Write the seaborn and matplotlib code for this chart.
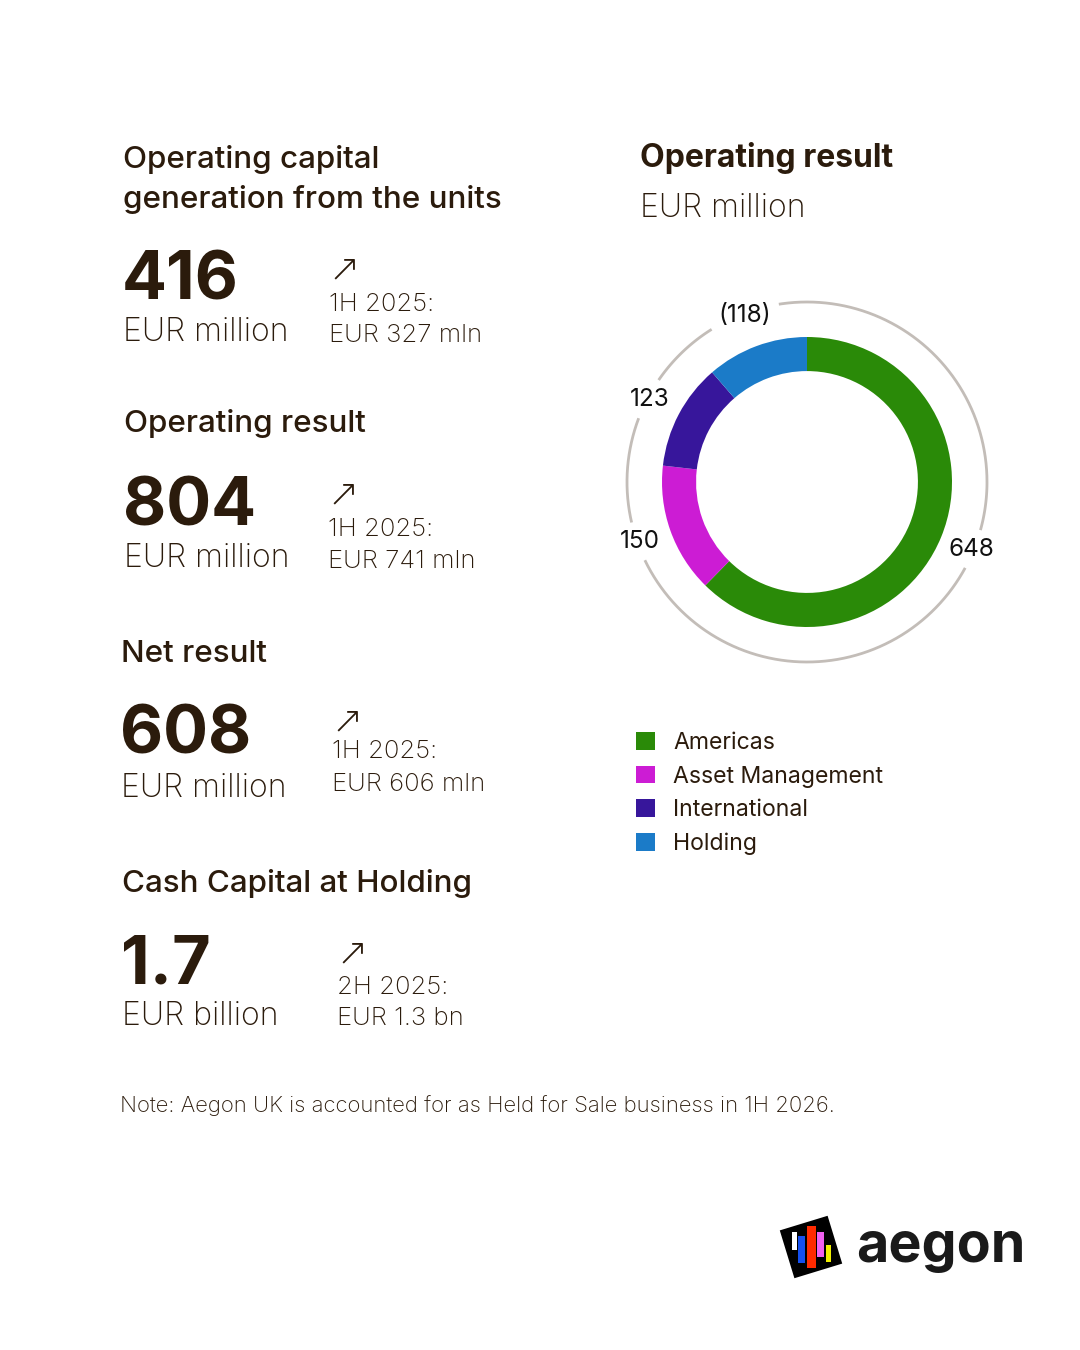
import numpy as np
import matplotlib
matplotlib.use("Agg")
import matplotlib.pyplot as plt
from matplotlib.patches import Patch, Rectangle, Polygon
import seaborn as sns

# ---------------- data ----------------
segments = ["Americas", "Asset Management", "International", "Holding"]
seg_values = [648, 150, 123, -118]
seg_colors = ["#2A8A08", "#CC1CD4", "#37169B", "#1B7BC8"]

kpi_titles = [["Operating capital", "generation from the units"],
              ["Operating result"], ["Net result"], ["Cash Capital at Holding"]]
kpi_values = ["416", "804", "608", "1.7"]
kpi_units = ["EUR million", "EUR million", "EUR million", "EUR billion"]
kpi_prev_period = ["1H 2025:", "1H 2025:", "1H 2025:", "2H 2025:"]
kpi_prev_value = ["EUR 327 mln", "EUR 741 mln", "EUR 606 mln", "EUR 1.3 bn"]

chart_title = "Operating result"
chart_unit = "EUR million"
note = "Note: Aegon UK is accounted for as Held for Sale business in 1H 2026."
brand = "aegon"
logo_bar_colors = ["#FFFFFF", "#1450F0", "#FF2A00", "#F060F0", "#F0F000"]

# ---------------- style ----------------
sns.set_theme(style="white")
plt.rcParams["font.family"] = ["Inter", "DejaVu Sans"]
INK = "#2B1B0C"

W, H = 1080, 1350
fig = plt.figure(figsize=(W / 100, H / 100), dpi=100)
fig.patch.set_facecolor("white")

# overlay axes in pixel coordinates
ov = fig.add_axes([0, 0, 1, 1])
ov.set_xlim(0, W)
ov.set_ylim(H, 0)
ov.axis("off")

def T(x, y, s, size, weight="normal", color=INK, family=None, **kw):
    kws = dict(fontsize=size, fontweight=weight, color=color, va="baseline", ha="left")
    if family is not None:
        kws["family"] = family
    kws.update(kw)
    return ov.text(x, y, s, **kws)

# left KPI blocks
layout = [
    (123, [168, 208], 300, 341, 329, 280, 311, 342),
    (124, [432], 525, 567, 328, 505, 536, 568),
    (121, [662], 753, 797, 332, 732, 758, 791),
    (122, [892], 983, 1025, 337, 964, 994, 1025),
]
for i, (xl, tbl, vbl, ubl, xr, abl, pbl, pvbl) in enumerate(layout):
    for line, bl in zip(kpi_titles[i], tbl):
        T(xl, bl, line, 22.6, weight="medium")
    T(xl - 1, vbl, kpi_values[i], 48, weight="bold")
    T(xl, ubl, kpi_units[i], 23, weight="light")
    T(xr - 1, abl, "\u2197", 27, weight="light", family=["DejaVu Sans"])
    T(xr, pbl, kpi_prev_period[i], 18.5, weight="light")
    T(xr, pvbl, kpi_prev_value[i], 18.5, weight="light")

T(120, 1112, note, 15.9, weight="light")

# right title
T(640, 167, chart_title, 23, weight="bold")
T(640, 217, chart_unit, 23, weight="light")

# ---------------- donut ----------------
cx, cy, R = 807, 482, 145
half = 200
axd = fig.add_axes([(cx - half) / W, 1 - (cy + half) / H, 2 * half / W, 2 * half / H])
lim = half / R
mags = np.abs(seg_values)
wedges, _ = axd.pie(mags, colors=seg_colors, startangle=90, counterclock=False,
                    radius=1.0, wedgeprops=dict(width=0.235, linewidth=0))
axd.set_xlim(-lim, lim)
axd.set_ylim(-lim, lim)
axd.set_aspect("equal")
axd.axis("off")

ring_r = 180 / R
label_r = 1.225
texts = []
for w, v in zip(wedges, seg_values):
    mid = np.deg2rad((w.theta1 + w.theta2) / 2)
    lab = f"({abs(v)})" if v < 0 else f"{v}"
    t = axd.text(label_r * np.cos(mid), label_r * np.sin(mid), lab, ha="center",
                 va="center", fontsize=17.5, color="#111111")
    texts.append(t)

fig.canvas.draw()
rend = fig.canvas.get_renderer()
boxes = [t.get_window_extent(rend).padded(7) for t in texts]
angs = np.linspace(0, 2 * np.pi, 1441)
pts = np.c_[ring_r * np.cos(angs), ring_r * np.sin(angs)]
disp = axd.transData.transform(pts)
keep = np.ones(len(angs), bool)
for b in boxes:
    keep &= ~((disp[:, 0] >= b.x0) & (disp[:, 0] <= b.x1) & (disp[:, 1] >= b.y0) & (disp[:, 1] <= b.y1))
runs = []
start = None
for i, k in enumerate(keep):
    if k and start is None:
        start = i
    if (not k or i == len(keep) - 1) and start is not None:
        end = i if k else i - 1
        runs.append((start, end))
        start = None
for s, e in runs:
    axd.plot(pts[s:e + 1, 0], pts[s:e + 1, 1], color="#C3BDB8", lw=2.0,
             solid_capstyle="butt", zorder=0)

# legend
handles = [Patch(facecolor=c, edgecolor="none", label=l) for c, l in zip(seg_colors, segments)]
fig.legend(handles=handles, loc="upper left", bbox_to_anchor=(636 / W, 1 - 732 / H),
           frameon=False, fontsize=16.6, handlelength=0.82, handleheight=0.82,
           handletextpad=0.8, labelspacing=0.5, borderpad=0, borderaxespad=0,
           labelcolor=INK)

# ---------------- logo ----------------
lc = np.array([811.0, 1247.0])
side = 50
ang = np.deg2rad(-17)
corners = np.array([[-1, -1], [1, -1], [1, 1], [-1, 1]]) * side / 2
rot = np.array([[np.cos(ang), -np.sin(ang)], [np.sin(ang), np.cos(ang)]])
sq = corners @ rot.T + lc
ov.add_patch(Polygon(sq, closed=True, facecolor="black", edgecolor="none"))
bars = [(792, 1232, 4.5, 18), (798, 1236, 7, 27), (807, 1226, 8.5, 42),
        (817, 1232, 7, 25), (826, 1245, 5, 17)]
for (bx, by, bw, bh), c in zip(bars, logo_bar_colors):
    ov.add_patch(Rectangle((bx, by), bw, bh, facecolor=c, edgecolor="none"))
T(856, 1262, brand, 40, weight="bold", color="#1A1A1A")

fig.savefig("out.png", dpi=100, facecolor="white")
